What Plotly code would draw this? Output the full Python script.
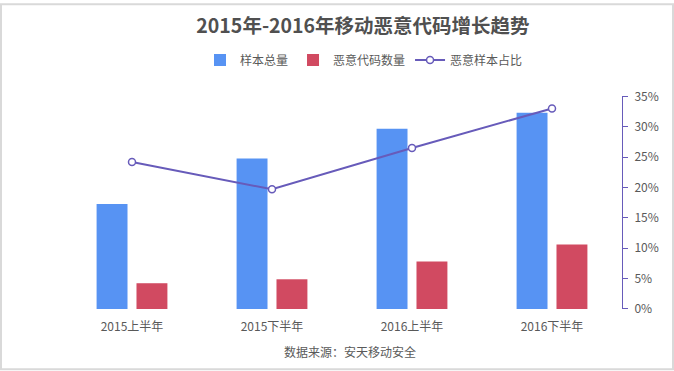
import plotly.graph_objects as go

categories = ["2015上半年", "2015下半年", "2016上半年", "2016下半年"]
total_samples = [172.8, 247.8, 296.7, 322.8]
malicious_samples = [42.4, 48.9, 78.3, 106.0]
malicious_ratio = [24.2, 19.7, 26.5, 33.0]
ratio_ticks = [0, 5, 10, 15, 20, 25, 30, 35]

FONT = "Noto Sans CJK SC"
TXT = "#595959"
W, H = 674, 371
L, R, T, B = 62, 52, 94, 62
PW, PH = W - L - R, H - T - B

fig = go.Figure()
fig.add_trace(go.Bar(name="样本总量", x=categories, y=total_samples,
                     marker=dict(color="#5793f3", line=dict(width=0)), yaxis="y"))
fig.add_trace(go.Bar(name="恶意代码数量", x=categories, y=malicious_samples,
                     marker=dict(color="#d14a61", line=dict(width=0)), yaxis="y"))
fig.add_trace(go.Scatter(name="恶意样本占比", x=categories, y=malicious_ratio,
                         mode="lines+markers", yaxis="y2",
                         line=dict(color="#675bba", width=2),
                         marker=dict(symbol="circle", size=7, color="white",
                                     line=dict(color="#675bba", width=1.5))))

fig.update_layout(
    width=W, height=H,
    margin=dict(l=L, r=R, t=T, b=B, pad=0),
    paper_bgcolor="white", plot_bgcolor="white",
    font=dict(family=FONT, size=12, color=TXT),
    title=dict(text="<b>2015年-2016年移动恶意代码增长趋势</b>",
               x=363 / W, xref="container", xanchor="center",
               y=1 - 26 / H, yref="container", yanchor="middle",
               font=dict(family=FONT, size=19.5, color="#505050")),
    barmode="group", bargap=0.43, bargroupgap=0.225,
    showlegend=True,
    legend=dict(orientation="h", xref="container", yref="container",
                x=364 / W, xanchor="center", y=1 - 60 / H, yanchor="middle",
                font=dict(family=FONT, size=12, color=TXT),
                bgcolor="rgba(0,0,0,0)", traceorder="normal"),
    xaxis=dict(type="category", showgrid=False, showline=False, zeroline=False,
               ticks="", tickfont=dict(family=FONT, size=12, color=TXT),
               ticklabelstandoff=9),
    yaxis=dict(range=[0, 350], visible=False, showgrid=False, fixedrange=True),
    yaxis2=dict(range=[0, 35], overlaying="y", side="right",
                tickvals=ratio_ticks, ticktext=[f"{v}%" for v in ratio_ticks],
                showgrid=False, zeroline=False,
                showline=True, linecolor="#675bba", linewidth=1,
                ticks="outside", ticklen=5, tickcolor="#675bba", tickwidth=1,
                tickfont=dict(family=FONT, size=12, color=TXT),
                ticklabelstandoff=4),
    shapes=[dict(type="rect", xref="paper", yref="paper",
                 x0=(1 - L) / PW, x1=(W - 1 - L) / PW,
                 y0=-(B - 1) / PH, y1=1 + (T - 1) / PH,
                 line=dict(color="#d9d9d9", width=2), fillcolor="rgba(0,0,0,0)",
                 layer="above")],
    annotations=[dict(text="数据来源：安天移动安全", xref="paper", yref="paper",
                      x=(350 - L) / PW, y=(H - B - 352) / PH,
                      xanchor="center", yanchor="middle", showarrow=False,
                      font=dict(family=FONT, size=12, color=TXT))],
)

fig.write_html("out.html",
               config={"displayModeBar": False},
               post_script="document.body.style.margin='0';document.body.style.padding='0';document.body.style.overflow='hidden';")
